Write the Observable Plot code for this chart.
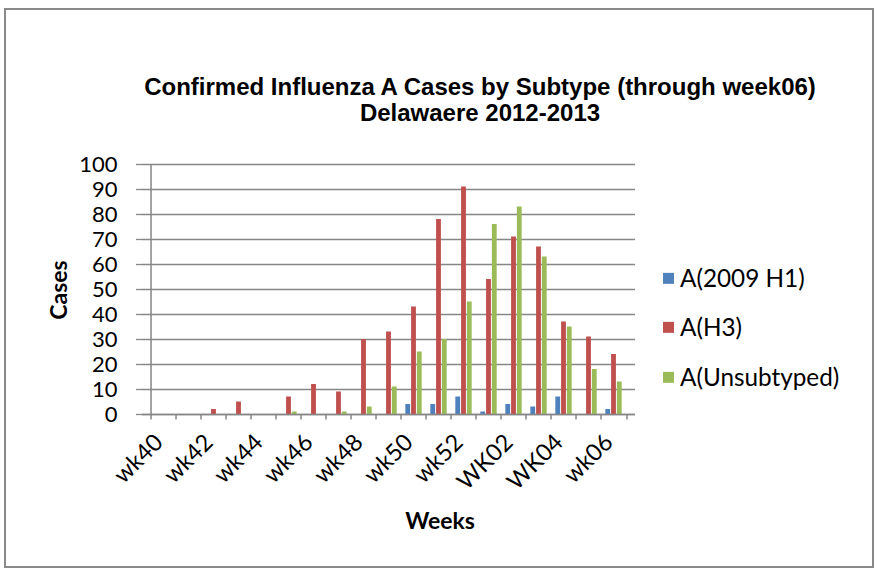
<!DOCTYPE html>
<html>
<head>
<meta charset="utf-8">
<script src="https://cdn.jsdelivr.net/npm/d3@7"></script>
<script src="https://cdn.jsdelivr.net/npm/@observablehq/plot@0.6"></script>
<style>
  body { margin: 0; background: #fff; }
  #wrap { position: relative; width: 877px; height: 572px; overflow: hidden; background: #fff; }
  #border { position: absolute; left: 4px; top: 8px; width: 866px; height: 556px; border: 2px solid #898989; }
  #chart { position: absolute; left: 0; top: 0; }
  .title { position: absolute; left: 480px; transform: translate(-50%,-50%); white-space: nowrap; line-height: 1;
           font-family: "Liberation Sans", Arial, sans-serif; font-weight: bold; font-size: 24px; color: #000; }
  .axt { position: absolute; white-space: nowrap; line-height: 1; font-family: Lato, sans-serif; font-weight: bold; font-size: 23px; color: #000; }
  .leg { position: absolute; left: 663px; white-space: nowrap; line-height: 1; font-family: Lato, sans-serif; font-size: 24.3px; color: #000; display: flex; align-items: center; }
  .leg span.sw { display: inline-block; width: 11px; height: 11px; margin-right: 6px; }
</style>
</head>
<body>
<div id="wrap">
  <div id="border"></div>
  <div id="chart"></div>
  <div class="title" style="top:87px">Confirmed Influenza A Cases by Subtype (through week06)</div>
  <div class="title" style="top:113px">Delawaere 2012-2013</div>
  <div class="axt" style="left:58px; top:290px; transform: translate(-50%,-50%) rotate(-90deg);">Cases</div>
  <div class="axt" style="left:440px; top:520px; transform: translate(-50%,-50%);">Weeks</div>
  <div id="legend"></div>
</div>
<script>
const weeks = ["wk40","wk41","wk42","wk43","wk44","wk45","wk46","wk47","wk48","wk49","wk50","wk51","wk52","WK01","WK02","WK03","WK04","wk05","wk06"];
const h1   = [0,0,0,0,0,0,0,0,0,0,4,4,7,1,4,3,7,0,2];
const h3   = [0,0,2,5,0,7,12,9,30,33,43,78,91,54,71,67,37,31,24];
const unst = [0,0,0,0,0,1,0,1,3,11,25,30,45,76,83,63,35,18,13];
const seriesNames = ["A(2009 H1)","A(H3)","A(Unsubtyped)"];
const seriesColors = ["#4F81BD","#C0504D","#9BBB59"];
const yTicks = [0,10,20,30,40,50,60,70,80,90,100];
const xLabels = ["wk40","wk42","wk44","wk46","wk48","wk50","wk52","WK02","WK04","wk06"];

const W = 877, H = 572;
const mL = 142, mR = 242, mT = 164, mB = 158;
const step = (W - mL - mR) / weeks.length;
const groupW = step / 1.5;
const barW = groupW / 3;
const off = (step - groupW) / 2;

const allSeries = [h1, h3, unst];
const barMarks = allSeries.map((vals, i) =>
  Plot.barY(weeks.map((w, j) => ({week: w, v: vals[j]})), {
    x: "week", y: "v", fill: seriesColors[i],
    insetLeft: off + barW * i,
    insetRight: step - off - barW * (i + 1)
  })
);

const plot = Plot.plot({
  width: W, height: H,
  marginLeft: mL, marginRight: mR, marginTop: mT, marginBottom: mB,
  style: {fontFamily: "Lato, sans-serif", background: "transparent"},
  x: {type: "band", domain: weeks, padding: 0, axis: null},
  y: {domain: [0, 100], axis: null},
  marks: [
    Plot.ruleY(yTicks, {stroke: "#868686", strokeWidth: 1.3}),
    ...barMarks,
    Plot.axisY({ticks: yTicks, tickSize: 6, tickPadding: 19, fontSize: 22, stroke: "#868686", strokeWidth: 1.3, label: null, color: "#000"}),
    Plot.ruleX([weeks[0]], {x: d => d, dx: -step/2, stroke: "#868686", strokeWidth: 1.5}),
    Plot.ruleY([0], {stroke: "#868686", strokeWidth: 1.5}),
    Plot.ruleX(weeks, {x: d => d, y1: 0, y2: -2.2, dx: -step/2, stroke: "#868686", strokeWidth: 1.5}),
    Plot.ruleX([weeks[weeks.length-1]], {x: d => d, y1: 0, y2: -2.2, dx: step/2, stroke: "#868686", strokeWidth: 1.5}),
    Plot.text(xLabels, {x: d => d, y: 0, dy: 24, dx: -5, rotate: -45, textAnchor: "end", lineAnchor: "middle", fontSize: 23.5, fill: "#000"})
  ]
});
document.getElementById("chart").appendChild(plot);

const leg = document.getElementById("legend");
const legY = [278, 327, 377];
seriesNames.forEach((n, i) => {
  const d = document.createElement("div");
  d.className = "leg";
  d.style.top = legY[i] + "px";
  d.style.transform = "translateY(-50%)";
  d.innerHTML = `<span class="sw" style="background:${seriesColors[i]}"></span>${n}`;
  leg.appendChild(d);
});
</script>
</body>
</html>
